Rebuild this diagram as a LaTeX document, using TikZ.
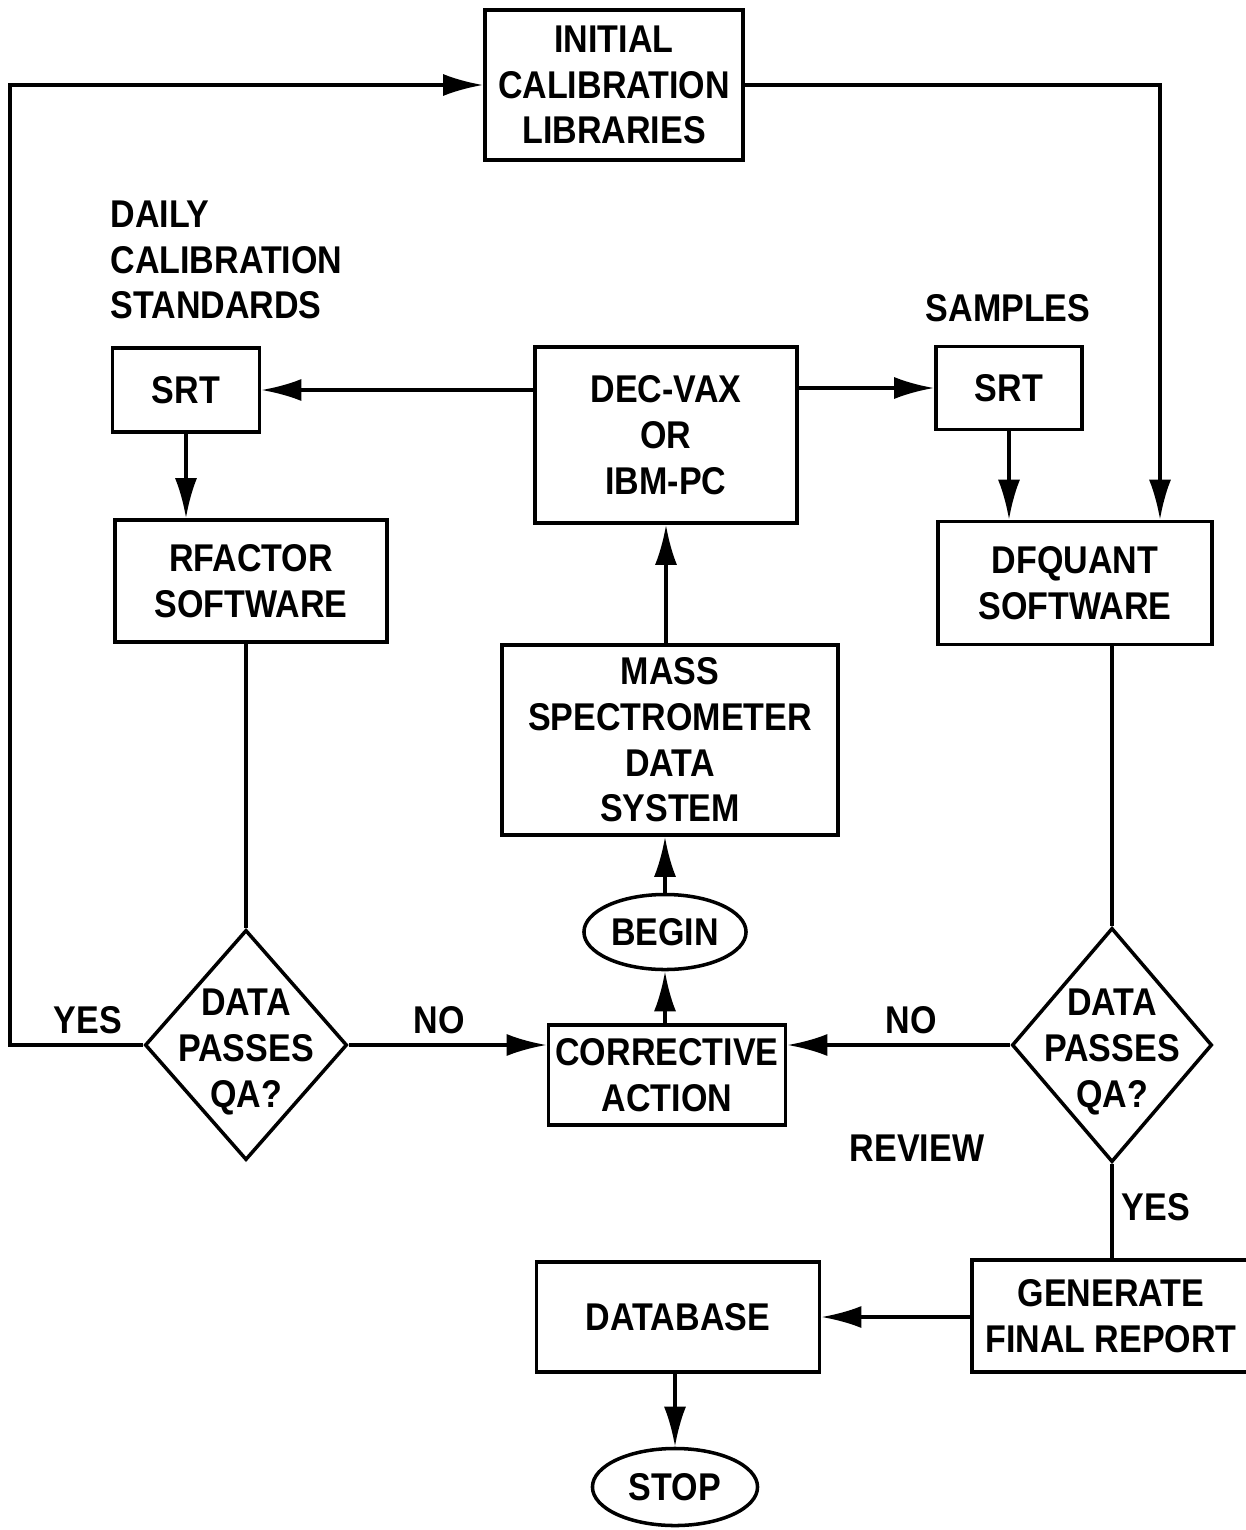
\documentclass[tikz,border=0pt]{standalone}
\usepackage{fontspec}
\newfontfamily\chartfont{Liberation Sans}[FakeStretch=0.88]
\usetikzlibrary{shapes.geometric}
\usetikzlibrary{arrows.meta}

\begin{document}
\begin{tikzpicture}[x=0.01cm, y=-0.01cm, line width=1pt,
  every node/.style={font=\chartfont\bfseries\fontsize{11}{13}\selectfont, align=center},
  flowbox/.style={draw, rectangle},
  term/.style={draw, ellipse, inner sep=0pt},
  qa/.style={draw, diamond, inner sep=0pt},
  flowarrow/.style={-{Latex[length=4mm, width=2.2mm]}}]
        % Fix the page size
        \useasboundingbox (0,0) rectangle (1246,1530);

        % Draw the boxes of the chart
        \node[flowbox, minimum width=2.58cm, minimum height=1.50cm] (init) at (614,85) {INITIAL\\CALIBRATION\\LIBRARIES};
        \node[flowbox, minimum width=1.47cm, minimum height=0.84cm] (srtL) at (186,390) {SRT};
        \node[flowbox, minimum width=2.62cm, minimum height=1.76cm] (dec) at (666,435) {DEC-VAX\\OR\\IBM-PC};
        \node[flowbox, minimum width=1.46cm, minimum height=0.83cm] (srtR) at (1009,388) {SRT};
        \node[flowbox, minimum width=2.72cm, minimum height=1.22cm] (rfac) at (251,581) {RFACTOR\\SOFTWARE};
        \node[flowbox, minimum width=2.74cm, minimum height=1.23cm] (dfq) at (1075,583) {DFQUANT\\SOFTWARE};
        \node[flowbox, minimum width=3.36cm, minimum height=1.90cm] (mass) at (670,740) {MASS\\SPECTROMETER\\DATA\\SYSTEM};
        \node[term, minimum width=1.62cm, minimum height=0.75cm] (begin) at (665,932) {BEGIN};
        \node[flowbox, inner xsep=0.5pt, minimum width=2.37cm, minimum height=1.00cm] (corr) at (667,1075) {CORRECTIVE\\ACTION};
        \node[flowbox, minimum width=2.78cm, minimum height=1.12cm] (gen) at (1111,1316) {GENERATE\\FINAL REPORT};
        \node[flowbox, minimum width=2.83cm, minimum height=1.10cm] (db) at (678,1317) {DATABASE};
        \node[term, minimum width=1.65cm, minimum height=0.77cm] (stop) at (675,1487) {STOP};

        % Draw the two QA checks
        \node[qa, minimum width=2.02cm, minimum height=2.30cm] (qaL) at (246,1045) {};
        \node (qaLtext) at (246,1052) {DATA\\PASSES\\QA?};
        \node[qa, minimum width=2.00cm, minimum height=2.34cm] (qaR) at (1112,1045) {};
        \node (qaRtext) at (1112,1052) {DATA\\PASSES\\QA?};

        % Free labels
        \node[anchor=west, align=left] (daily) at (97,260) {DAILY\\CALIBRATION\\STANDARDS};
        \node (samples) at (1008,308) {SAMPLES};
        \node (yesL) at (88,1020) {YES};
        \node (noL) at (439,1020) {NO};
        \node (noR) at (911,1020) {NO};
        \node (review) at (917,1148) {REVIEW};
        \node (yesR) at (1156,1207) {YES};

        % Corners of the long return lines
        \coordinate (loopB) at (10,1045);
        \coordinate (loopT) at (10,85);
        \coordinate (feedR) at (1160,85);

        % Draw the connectors
        \draw[flowarrow] (qaL.west) -- (loopB) -- (loopT) -- (init.west);
        \draw[flowarrow] (init.east) -- (feedR) -- (feedR |- dfq.north);
        \draw[flowarrow] (dec.west |- srtL) -- (srtL.east);
        \draw[flowarrow] (dec.east |- srtR) -- (srtR.west);
        \draw[flowarrow] (srtL.south) -- (srtL.south |- rfac.north);
        \draw[flowarrow] (srtR.south) -- (srtR.south |- dfq.north);
        \draw (qaL.north |- rfac.south) -- (qaL.north);
        \draw (qaR.north |- dfq.south) -- (qaR.north);
        \draw[flowarrow] (qaL.east) -- (qaL.east -| corr.west);
        \draw[flowarrow] (qaR.west) -- (qaR.west -| corr.east);
        \draw[flowarrow] (corr.north -| begin.south) -- (begin.south);
        \draw[flowarrow] (begin.north) -- (begin.north |- mass.south);
        \draw[flowarrow] (mass.north -| dec.south) -- (dec.south);
        \draw (qaR.south) -- (qaR.south |- gen.north);
        \draw[flowarrow] (gen.west |- db.east) -- (db.east);
        \draw[flowarrow] (db.south -| stop.north) -- (stop.north);
\end{tikzpicture}
\end{document}
